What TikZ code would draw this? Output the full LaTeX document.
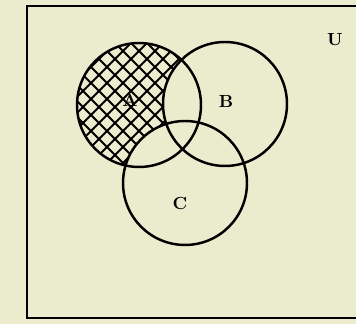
\documentclass[tikz,border=0pt]{standalone}
\usepackage{tikz}
\usetikzlibrary{calc}
\definecolor{paper}{RGB}{235,235,205}
\tikzset{
  setcircle/.style={draw, circle, line width=1.4pt,
    minimum size=2.48cm, inner sep=0pt},
  setlabel/.style={font=\bfseries},
  hatchline/.style={line width=1.1pt},
}

\begin{document}
\begin{tikzpicture}[x=0.02cm, y=0.02cm]
  % paper
  \fill[paper] (0,0) rectangle (356,324);
  \useasboundingbox (0,0) rectangle (356,324);

  % universe
  \draw[line width=1.3pt] (27,6) rectangle (380,318);
  \node[setlabel] (univ) at (335,284) {U};

  % sets
  \node[setcircle] (setA) at (139,219) {};
  \node[setcircle] (setB) at (225,220) {};
  \node[setcircle] (setC) at (185,141) {};

  % A minus (B u C)
  \begin{scope}[even odd rule]
    \clip (setA.center) circle[radius=1.24cm];
    \clip (0,0) rectangle (356,324) (setB.center) circle[radius=1.24cm];
    \clip (0,0) rectangle (356,324) (setC.center) circle[radius=1.24cm];
    \foreach \d in {-130,-114,...,170} {
      \draw[hatchline] (\d,100) -- ++(250,250);
      \draw[hatchline] (\d,350) -- ++(250,-250);
    }
  \end{scope}

  % labels
  \node[setlabel] (labA) at (130,224) {A};
  \node[setlabel] (labB) at (226,223) {B};
  \node[setlabel] (labC) at (180,121) {C};
\end{tikzpicture}
\end{document}
